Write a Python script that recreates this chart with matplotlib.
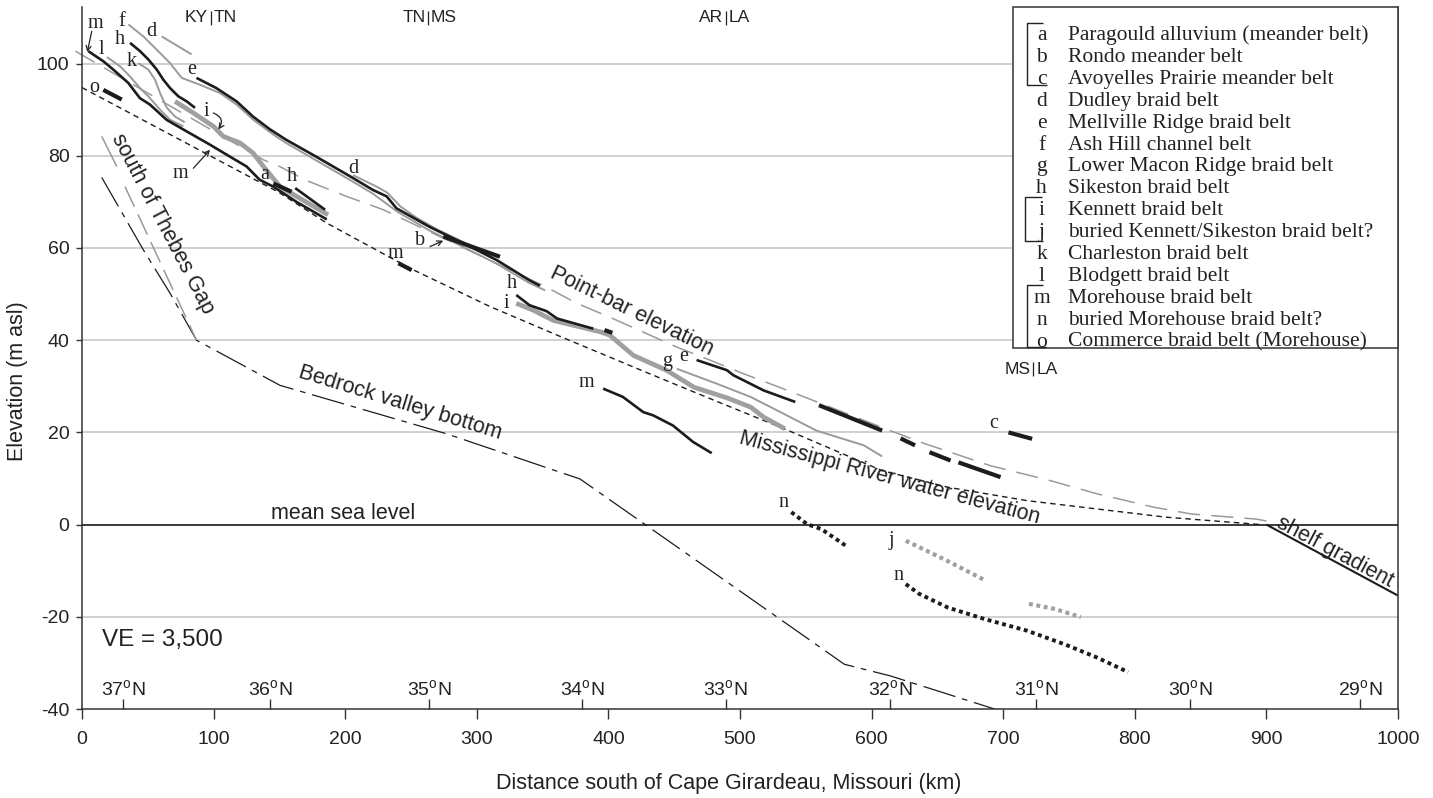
import matplotlib
matplotlib.use("Agg")
import matplotlib.pyplot as plt
from matplotlib.patches import Rectangle

plt.rcParams["font.family"] = ["Liberation Sans", "DejaVu Sans"]
plt.rcParams["mathtext.fontset"] = "custom"
plt.rcParams["mathtext.rm"] = "Liberation Sans"
plt.rcParams["lines.scale_dashes"] = False
plt.rcParams["lines.solid_capstyle"] = "butt"
plt.rcParams["axes.unicode_minus"] = False

# -------------------------------
# Data (km south of Cape Girardeau, m asl)
# -------------------------------
x_ticks = [0, 100, 200, 300, 400, 500, 600, 700, 800, 900, 1000]
y_ticks = [-40, -20, 0, 20, 40, 60, 80, 100]
grid_levels = [-20, 20, 40, 60, 80, 100]

lat_deg = [37, 36, 35, 34, 33, 32, 31, 30, 29]
lat_km = [31, 143, 264, 380, 489, 614, 725, 842, 971]

state_west = ["KY", "TN", "AR", "MS"]
state_east = ["TN", "MS", "LA", "LA"]
state_km = [98, 263, 489, 723]
state_el = [109.9, 109.9, 109.9, 33.7]

river_km = [0, 100, 150, 186, 250, 310, 366, 429, 480, 536, 608, 658, 718, 824, 896]
river_el = [94.8, 79.6, 72.0, 65.4, 55.5, 47.3, 40.5, 33.0, 27.0, 20.5, 11.7, 8.1, 5.2, 1.6, 0.0]

pointbar_km = [-5, 10, 90, 138, 150, 170, 201, 229, 353, 376, 401, 452, 477, 502, 528,
               555, 614, 640, 690, 735, 771, 814, 843, 892, 900]
pointbar_el = [102.7, 100.2, 87.0, 79.1, 77.7, 74.7, 71.2, 68.3, 51.5, 48.0, 45.0, 38.5,
               35.7, 32.8, 30.0, 27.0, 20.4, 17.6, 12.8, 9.6, 6.7, 3.8, 2.3, 1.2, 0.8]

bedrock_km = [15, 46.6, 66.9, 87, 150.5, 277, 378.4, 428, 579.3, 614, 700]
bedrock_el = [75.3, 59.6, 50.2, 40.0, 30.2, 19.7, 9.9, 0.0, -30.3, -32.8, -40.6]

thebes_solid_km = [15, 26.4]
thebes_solid_el = [84.2, 77.7]
thebes_dash_km = [32.7, 87]
thebes_dash_el = [73.3, 40.0]

shelf_km = [900, 1000]
shelf_el = [0.0, -15.4]

# channel / braid belts
m1 = [(4.8, 102.7), (16.2, 100.5), (23.8, 98.7), (35.2, 95.8), (44, 92.5), (51.7, 91.1),
      (64.3, 87.8), (79.5, 85.3), (97.3, 82.4), (112.5, 79.8), (125, 77.7), (135, 74.8),
      (145.4, 73.3), (163, 70.0), (186, 66.2)]
m2 = [(396, 29.5), (411, 27.7), (426.5, 24.4), (434, 23.7), (449, 21.5), (464.5, 17.9), (478.5, 15.5)]
m3 = [(240.4, 56.7), (250.5, 55.2)]
e1 = [(87, 96.9), (102, 94.7), (117.5, 91.8), (130, 88.5), (143, 85.7), (155, 83.5), (178, 79.8),
      (204, 75.5), (221, 72.6), (231.5, 71.2), (239, 68.6), (264, 64.6), (290, 61.0),
      (315, 57.4), (340, 53.0), (348, 51.8)]
e2 = [(467, 35.7), (490, 33.5), (495, 32.4), (518, 29.1), (542, 26.6)]
e3 = [(560, 25.9), (608, 20.4)]
e4 = [(622, 18.7), (633, 17.2)]
e5 = [(644, 15.7), (660, 13.9)]
e6 = [(666, 13.5), (698, 10.3)]
h1 = [(36.5, 104.5), (44.1, 102.7), (50.4, 100.9), (56.8, 98.7), (61.8, 96.5), (66.9, 94.7),
      (73.2, 92.9), (79.6, 91.8), (85.9, 90.4)]
h2 = [(162, 73.0), (184.7, 68.3)]
h3 = [(330, 49.8), (340, 47.6), (353, 46.3), (361, 44.7), (388.5, 42.5)]
h4 = [(397, 42.2), (403, 41.6)]
f1 = [(35.2, 108.5), (46.6, 105.9), (59.3, 102.3), (66.9, 100.1), (75.8, 96.9), (89.7, 95.4),
      (104.9, 93.6), (117.5, 91.1), (130.2, 87.8), (145.4, 84.6), (155, 82.8), (178, 79.0),
      (204, 74.7), (221, 71.8), (240, 67.8), (264, 63.8), (290, 60.2), (315, 56.6),
      (340, 52.4), (352, 50.8)]
d1 = [(60.5, 105.9), (83.3, 102.0)]
d2 = [(206, 75.8), (224, 73.3), (232, 72.0), (242, 69.0), (254, 66.6), (270, 64.0), (300, 59.9)]
k1 = [(42.8, 100.1), (50.4, 98.7), (55.5, 96.5), (59.3, 93.6), (64.3, 90.5), (70.7, 88.5), (78, 87.3)]
l1 = [(19, 101.4), (29, 99.4), (36.5, 97.2), (44, 94.7), (50.4, 92.9), (59.3, 90.0), (67, 87.8), (77, 86.4)]
g1 = [(452, 33.8), (482, 30.6), (508, 27.7), (528, 24.8), (558, 20.4), (594, 17.2), (608, 14.8)]
i1 = [(70.7, 91.8), (84.6, 89.3), (99.8, 86.4), (107.4, 84.2), (120, 82.8), (130, 80.6),
      (137.8, 77.7), (150.5, 73.3), (163, 71.2), (187, 67.2)]
i2 = [(330, 48.0), (343, 46.5), (358, 44.3), (394, 41.8), (401, 41.1), (419, 36.7), (444, 33.5),
      (465, 29.8), (490, 27.5), (508, 25.5), (518, 23.3), (534, 20.8)]
a1 = [(145.4, 74.0), (159.3, 72.2)]
b1 = [(274.5, 62.5), (317.6, 58.1)]
c1 = [(704, 20.0), (722, 18.6)]
o1 = [(16.2, 94.3), (30.2, 92.2)]
n1 = [(539, 2.7), (551, 0.1), (562, -1.0), (582, -4.9)]
n2 = [(626, -12.9), (636, -15.0), (658, -18.0), (686, -20.5), (718, -23.0), (747, -26.0),
      (771, -28.8), (795, -32.0)]
j1 = [(626, -3.5), (655, -7.5), (687, -12.2)]
j2 = [(719.6, -17.2), (739.4, -18.3), (759, -20.1)]

# belt letters placed in the plot
tag_text = ["m", "f", "d", "h", "l", "k", "o", "e", "i", "m", "a", "h", "d", "b", "m",
            "h", "i", "m", "g", "e", "c", "n", "j", "n"]
tag_km = [10.4, 30.1, 53, 28.9, 15, 37.8, 9.4, 83.4, 94.8, 74.5, 139, 159.3, 206.2, 256.8,
          238.4, 326.5, 322.7, 383.5, 444.3, 457.4, 693, 533.4, 615, 620.5]
tag_el = [108.7, 109.2, 107.0, 105.2, 103.0, 100.5, 94.9, 98.7, 89.6, 76.2, 75.9, 75.5, 77.3,
          61.7, 58.7, 52.3, 48.0, 30.9, 35.3, 36.5, 21.9, 4.9, -3.5, -11.1]

# pointer arrows (from -> to), with curvature
arrow_from = [(7.4, 107.0), (84.6, 77.3), (99.8, 89.3), (264.4, 60.3)]
arrow_to = [(4.0, 102.5), (97.3, 81.3), (103.6, 85.7), (274.5, 61.6)]
arrow_rad = [0.0, 0.0, -0.6, 0.0]

legend_keys = list("abcdefghijklmno")
legend_names = [
    "Paragould alluvium (meander belt)",
    "Rondo meander belt",
    "Avoyelles Prairie meander belt",
    "Dudley braid belt",
    "Mellville Ridge braid belt",
    "Ash Hill channel belt",
    "Lower Macon Ridge braid belt",
    "Sikeston braid belt",
    "Kennett braid belt",
    "buried Kennett/Sikeston braid belt?",
    "Charleston braid belt",
    "Blodgett braid belt",
    "Morehouse braid belt",
    "buried Morehouse braid belt?",
    "Commerce braid belt (Morehouse)",
]

# -------------------------------
# Styles
# -------------------------------
DARK = "#1c1c1c"
AXC = "#333333"
GREY = "#9a9a9a"
GRID = "#c8c8c8"
styles = {
    "gray": dict(color=GREY, lw=1.4),
    "thick_gray": dict(color="#a0a0a0", lw=3.4),
    "black": dict(color=DARK, lw=1.9),
    "thick_black": dict(color=DARK, lw=3.0),
    "dot_black": dict(color=DARK, lw=2.8, ls=(0, (2.8, 2.6))),
    "dot_gray": dict(color="#a0a0a0", lw=3.0, ls=(0, (2.8, 2.6))),
}
belts = [
    (f1, "gray"), (d1, "gray"), (d2, "gray"), (k1, "gray"), (l1, "gray"), (g1, "gray"),
    (i1, "thick_gray"), (i2, "thick_gray"),
    (m1, "black"), (m2, "black"), (e1, "black"), (e2, "black"), (h1, "black"), (h2, "black"),
    (h3, "black"),
    (m3, "thick_black"), (h4, "thick_black"), (a1, "thick_black"), (b1, "thick_black"),
    (c1, "thick_black"), (o1, "thick_black"), (e3, "thick_black"), (e4, "thick_black"),
    (e5, "thick_black"), (e6, "thick_black"),
    (n1, "dot_black"), (n2, "dot_black"), (j1, "dot_gray"), (j2, "dot_gray"),
]

# -------------------------------
# Figure
# -------------------------------
W, H = 1433, 798
fig = plt.figure(figsize=(W / 100, H / 100), dpi=100)
AX_L, AX_R, AX_T, AX_B = 82, 1398, 7, 709
ax = fig.add_axes([AX_L / W, (H - AX_B) / H, (AX_R - AX_L) / W, (AX_B - AX_T) / H])
ax.set_xlim(0, 1000)
ax.set_ylim(-40, -40 + (AX_B - AX_T) / 4.61)


def axf(px, py):
    """pixel position in the picture -> axes fraction"""
    return (px - AX_L) / (AX_R - AX_L), (AX_B - py) / (AX_B - AX_T)


for lev in grid_levels:
    ax.axhline(lev, color=GRID, lw=1.2, zorder=0)
ax.axhline(0, color="#3a3a3a", lw=1.4, zorder=1)

# reference lines
ax.plot(river_km, river_el, color=DARK, lw=1.0, ls=(0, (4.0, 3.0)), zorder=2)
ax.plot(pointbar_km, pointbar_el, color=GREY, lw=1.1, ls=(0, (16, 8)), zorder=2, clip_on=False)
ax.plot(bedrock_km, bedrock_el, color=DARK, lw=0.9, ls=(0, (24, 5, 4, 5)), zorder=2)
ax.plot(thebes_solid_km, thebes_solid_el, color=GREY, lw=1.1, zorder=2)
ax.plot(thebes_dash_km, thebes_dash_el, color=GREY, lw=1.1, ls=(0, (16, 6)), zorder=2)
ax.plot(shelf_km, shelf_el, color=DARK, lw=1.5, zorder=2)

for pts, st in belts:
    xs = [p[0] for p in pts]
    ys = [p[1] for p in pts]
    ax.plot(xs, ys, zorder=3, **styles[st])

for t, x, y in zip(tag_text, tag_km, tag_el):
    ax.text(x, y, t, family="Liberation Serif", fontsize=14.5, color="#222222",
            ha="center", va="center", zorder=4)

for (x0, y0), (x1, y1), rad in zip(arrow_from, arrow_to, arrow_rad):
    ax.annotate("", xy=(x1, y1), xytext=(x0, y0),
                arrowprops=dict(arrowstyle="->", lw=0.9, color="#222222", shrinkA=0, shrinkB=0,
                                mutation_scale=9, connectionstyle=f"arc3,rad={rad}"),
                zorder=4)

# curve labels
txt = dict(fontsize=15.5, color="#222222", ha="center", va="center", rotation_mode="anchor")
ax.text(418, 46.2, "Point-bar elevation", rotation=-26, **txt)
ax.text(614, 10.2, "Mississippi River water elevation", rotation=-15, **txt)
ax.text(241.6, 26.4, "Bedrock valley bottom", rotation=-17, **txt)
ax.text(61.2, 65.2, "south of Thebes Gap", rotation=-62.5, **txt)
ax.text(952, -5.9, "shelf gradient", rotation=-28, **txt)
ax.text(198.6, 1.2, "mean sea level", fontsize=15.5, color="#222222", ha="center", va="baseline")
ax.text(15, -26.3, "VE = 3,500", fontsize=17.5, color="#222222", ha="left", va="baseline")

# state borders
for w, e, x, y in zip(state_west, state_east, state_km, state_el):
    ax.plot([x, x], [y - 1.5, y + 1.5], color="#222222", lw=0.9, zorder=4, clip_on=False)
    ax.annotate(w, (x, y), xytext=(-2, 0), textcoords="offset points", ha="right", va="center",
                fontsize=12.5, color="#222222")
    ax.annotate(e, (x, y), xytext=(2, 0), textcoords="offset points", ha="left", va="center",
                fontsize=12.5, color="#222222")

# latitude ticks along the bottom
for d, x in zip(lat_deg, lat_km):
    ax.plot([x, x], [-40, -40 + 10 / 4.61], color=AXC, lw=1.0, zorder=4, clip_on=False)
    ax.text(x, -37.2, f"{d}$^{{\\mathrm{{o}}}}$N", fontsize=14, color="#222222",
            ha="center", va="baseline")

# axes
for s in ["left", "bottom", "right"]:
    ax.spines[s].set_color(AXC)
    ax.spines[s].set_linewidth(1.1)
ax.spines["top"].set_visible(False)
ax.set_xticks(x_ticks)
ax.set_yticks(y_ticks)
ax.tick_params(axis="x", direction="out", length=7.5, width=1.0, color=AXC, labelsize=14,
               pad=8.5, labelcolor="#222222")
ax.tick_params(axis="y", direction="out", length=4.5, width=1.0, color=AXC, labelsize=14,
               pad=4.5, labelcolor="#222222")
ax.tick_params(axis="y", which="both", right=False)

fig.text(729 / W, (H - 789) / H, "Distance south of Cape Girardeau, Missouri (km)",
         fontsize=15.5, color="#222222", ha="center", va="baseline")
fig.text(18 / W, 1 - 381 / H, "Elevation (m asl)", fontsize=15.5, color="#222222",
         rotation=90, ha="center", va="center")

# legend box
x0, y0 = axf(1013, 348)
x1, y1 = axf(1398, 7)
ax.add_patch(Rectangle((x0, y0), x1 - x0, y1 - y0, transform=ax.transAxes, facecolor="white",
                       edgecolor=AXC, lw=1.1, zorder=6, clip_on=False))
for i, (k, name) in enumerate(zip(legend_keys, legend_names)):
    base = 40 + 21.9 * i
    ax.text(*axf(1041.7, base), k, transform=ax.transAxes, family="Liberation Serif", fontsize=15.5,
            color="#222222", ha="center", va="baseline", zorder=7)
    ax.text(*axf(1068.3, base), name, transform=ax.transAxes, family="Liberation Serif",
            fontsize=15.5, color="#222222", ha="left", va="baseline", zorder=7)

for bx, top, bot, tx, bxr in [(1026.7, 22.7, 85, 1043, 1047), (1025, 196.7, 240.7, 1041.7, 1043),
                              (1027.3, 285, 346.7, 1043, 1046)]:
    pts = [axf(tx, top), axf(bx, top), axf(bx, bot), axf(bxr, bot)]
    ax.plot([p[0] for p in pts], [p[1] for p in pts], transform=ax.transAxes, color="#222222",
            lw=1.0, zorder=7, clip_on=False)

fig.savefig("out.png", dpi=100)
